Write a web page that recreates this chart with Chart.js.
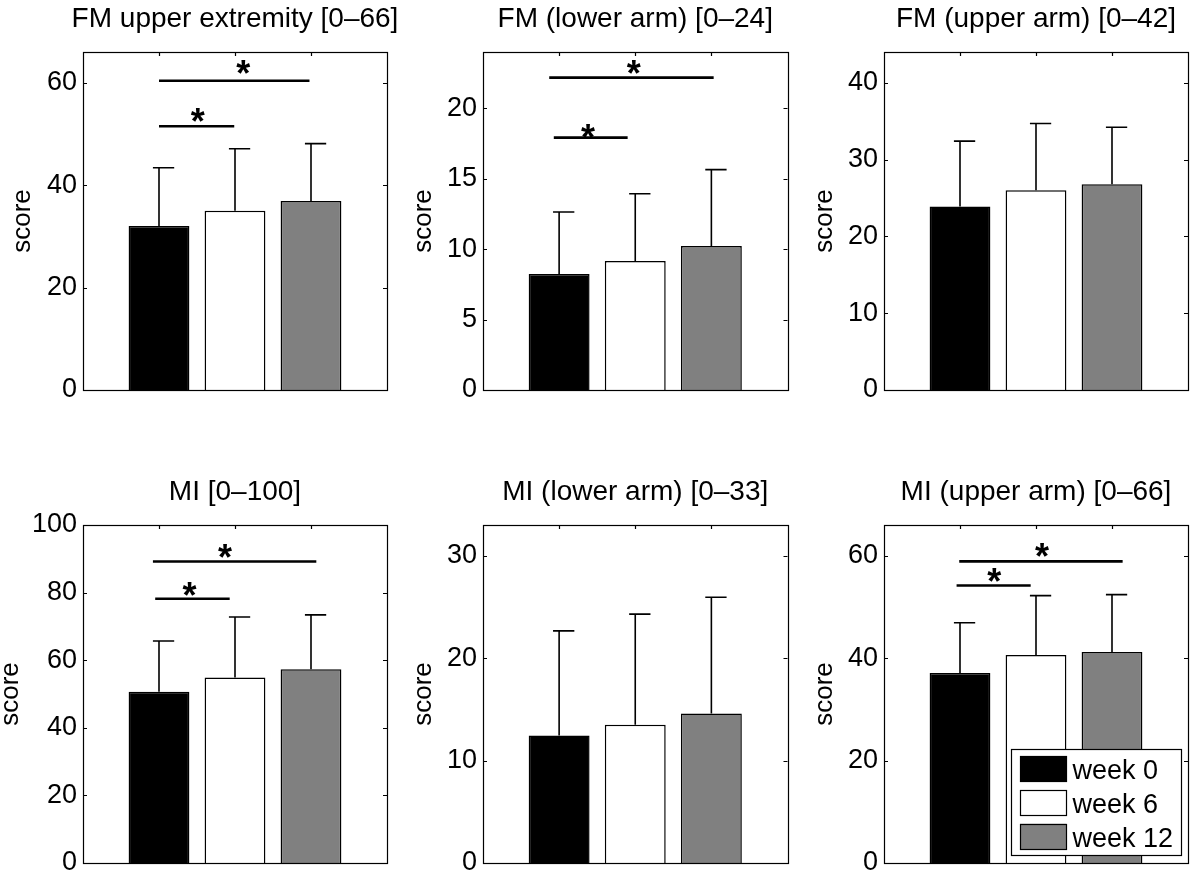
<!DOCTYPE html>
<html>
<head>
<meta charset="utf-8">
<script src="https://cdn.jsdelivr.net/npm/chart.js@4.4.0/dist/chart.umd.min.js"></script>
<style>
  html, body { margin: 0; padding: 0; background: #ffffff; }
  #wrap { position: relative; width: 1200px; height: 880px; overflow: hidden; background: #ffffff; }
  #wrap canvas { position: absolute; }
</style>
</head>
<body>
<div id="wrap"></div>
<script>
// ---------------- data ----------------
const groups = ['week 0', 'week 6', 'week 12'];
const groupX = [1, 2, 3];
const panelTitles = [
  'FM upper extremity [0–66]',
  'FM (lower arm) [0–24]',
  'FM (upper arm) [0–42]',
  'MI [0–100]',
  'MI (lower arm) [0–33]',
  'MI (upper arm) [0–66]'
];
const yAxisMax  = [66, 24, 44, 100, 33, 66];
const yAxisStep = [20, 5, 10, 20, 10, 20];

const fmUpperExtMean = [32.0, 35.0, 36.9];
const fmUpperExtSD   = [11.4, 12.1, 11.2];
const fmLowerArmMean = [8.24, 9.16, 10.23];
const fmLowerArmSD   = [4.40, 4.78, 5.42];
const fmUpperArmMean = [23.9, 26.0, 26.8];
const fmUpperArmSD   = [8.5, 8.7, 7.4];
const miTotalMean    = [50.7, 54.9, 57.3];
const miTotalSD      = [15.0, 17.9, 16.1];
const miLowerArmMean = [12.46, 13.5, 14.6];
const miLowerArmSD   = [10.2, 10.8, 11.35];
const miUpperArmMean = [37.1, 40.6, 41.2];
const miUpperArmSD   = [9.8, 11.6, 11.2];

// significance brackets: [x from, x to, y level]; stars: [x, y]
const fmUpperExtSig   = [[1.0, 1.99, 51.5], [1.0, 2.98, 60.4]];
const fmUpperExtStars = [[1.51, 54.1], [2.11, 63.4]];
const fmLowerArmSig   = [[0.93, 1.90, 17.92], [0.87, 3.03, 22.18]];
const fmLowerArmStars = [[1.38, 18.5], [1.98, 23.1]];
const miTotalSig      = [[0.95, 1.93, 78.2], [0.92, 3.07, 89.2]];
const miTotalStars    = [[1.40, 81.6], [1.87, 92.9]];
const miUpperArmSig   = [[0.955, 1.93, 54.2], [0.99, 3.14, 58.9]];
const miUpperArmStars = [[1.45, 56.6], [2.08, 61.4]];

const panelMeans = [fmUpperExtMean, fmLowerArmMean, fmUpperArmMean, miTotalMean, miLowerArmMean, miUpperArmMean];
const panelSDs   = [fmUpperExtSD, fmLowerArmSD, fmUpperArmSD, miTotalSD, miLowerArmSD, miUpperArmSD];
const panelSig   = [fmUpperExtSig, fmLowerArmSig, [], miTotalSig, [], miUpperArmSig];
const panelStars = [fmUpperExtStars, fmLowerArmStars, [], miTotalStars, [], miUpperArmStars];

// ---------------- styles / layout ----------------
const FONT = '"Liberation Sans", Arial, Helvetica, sans-serif';
const groupColors = ['#000000', '#ffffff', '#808080'];
const layoutCfg = [
  { left: 0,   top: 0,   w: 400, h: 420, axisW: 83, padR: 13,   padB: 30, yTitlePad: 7.2 },
  { left: 400, top: 0,   w: 400, h: 420, axisW: 83, padR: 12.5, padB: 30, yTitlePad: 8.5 },
  { left: 800, top: 0,   w: 400, h: 420, axisW: 84, padR: 12,   padB: 30, yTitlePad: 9.0 },
  { left: 0,   top: 473, w: 400, h: 407, axisW: 83, padR: 13,   padB: 17, yTitlePad: -5.0 },
  { left: 400, top: 473, w: 400, h: 407, axisW: 83, padR: 12.5, padB: 17, yTitlePad: 8.5 },
  { left: 800, top: 473, w: 400, h: 407, axisW: 84, padR: 12,   padB: 17, yTitlePad: 9.0 }
];
const legendPanel = 5;

Chart.defaults.font.family = FONT;
Chart.defaults.color = '#000000';

const decorPlugin = {
  id: 'decor',
  afterLayout(chart) {
    // let the (chart-area wide) title overhang the plot box without being squeezed
    const tb = chart.titleBlock;
    if (tb) { tb.left -= 80; tb.right += 80; tb.width += 160; }
  },
  beforeDatasetsDraw(chart, args, opts) {
    const ctx = chart.ctx;
    const a = chart.chartArea;
    const xs = chart.scales.x, ys = chart.scales.y;
    const tl = 4;
    ctx.save();
    ctx.strokeStyle = '#000';
    ctx.lineWidth = 1.2;
    ctx.beginPath();
    ys.ticks.forEach(t => {
      const y = Math.round(ys.getPixelForValue(t.value)) + 0.5;
      ctx.moveTo(a.left, y); ctx.lineTo(a.left + tl, y);
      ctx.moveTo(a.right, y); ctx.lineTo(a.right - tl, y);
    });
    groupX.forEach(v => {
      const x = Math.round(xs.getPixelForValue(v)) + 0.5;
      ctx.moveTo(x, a.top); ctx.lineTo(x, a.top + tl);
      ctx.moveTo(x, a.bottom); ctx.lineTo(x, a.bottom - tl);
    });
    ctx.stroke();
    ctx.restore();
  },
  afterDatasetsDraw(chart, args, opts) {
    const i = opts.idx;
    const ctx = chart.ctx;
    const a = chart.chartArea;
    const xs = chart.scales.x, ys = chart.scales.y;
    const means = panelMeans[i], sds = panelSDs[i];
    ctx.save();
    // error bars (upper only)
    ctx.strokeStyle = '#000';
    ctx.lineWidth = 1.6;
    ctx.beginPath();
    means.forEach((m, k) => {
      const x = xs.getPixelForValue(groupX[k]);
      const yb = ys.getPixelForValue(m);
      const yt = ys.getPixelForValue(m + sds[k]);
      ctx.moveTo(x, yb); ctx.lineTo(x, yt);
      ctx.moveTo(xs.getPixelForValue(groupX[k] - 0.08), yt);
      ctx.lineTo(xs.getPixelForValue(groupX[k] + 0.2), yt);
    });
    ctx.stroke();
    // significance lines
    ctx.lineWidth = 2.6;
    ctx.beginPath();
    panelSig[i].forEach(s => {
      const y = ys.getPixelForValue(s[2]);
      ctx.moveTo(xs.getPixelForValue(s[0]), y);
      ctx.lineTo(xs.getPixelForValue(s[1]), y);
    });
    ctx.stroke();
    // stars
    const starSize = 36;
    ctx.fillStyle = '#000';
    ctx.font = 'bold ' + starSize + 'px ' + FONT;
    ctx.textAlign = 'center';
    ctx.textBaseline = 'alphabetic';
    panelStars[i].forEach(s => {
      ctx.fillText('*', xs.getPixelForValue(s[0]), ys.getPixelForValue(s[1]) + 0.58 * starSize);
    });
    // box
    ctx.lineWidth = 1.2;
    ctx.strokeStyle = '#000';
    ctx.strokeRect(Math.round(a.left) + 0.5, Math.round(a.top) + 0.5,
                   Math.round(a.right) - Math.round(a.left), Math.round(a.bottom) - Math.round(a.top));
    // legend
    if (i === legendPanel) {
      const bw = 170, bh = 106;
      const bx = a.right - 7.5 - bw, by = a.bottom - 8 - bh;
      ctx.fillStyle = '#fff';
      ctx.fillRect(bx, by, bw, bh);
      ctx.lineWidth = 1.2;
      ctx.strokeRect(Math.round(bx) + 0.5, Math.round(by) + 0.5, bw, bh);
      ctx.font = '27px ' + FONT;
      ctx.textAlign = 'left';
      ctx.textBaseline = 'alphabetic';
      chart.data.datasets.forEach((ds, k) => {
        const sy = by + 7 + k * 33.9;
        ctx.fillStyle = ds.backgroundColor;
        ctx.fillRect(bx + 9.5, sy, 46.5, 25.5);
        ctx.strokeRect(Math.round(bx + 9.5) + 0.5, Math.round(sy) + 0.5, 46, 25);
        ctx.fillStyle = '#000';
        ctx.fillText(ds.label, bx + 62, sy + 12.8 + 10.5);
      });
    }
    ctx.restore();
  }
};

const wrap = document.getElementById('wrap');
panelTitles.forEach((title, i) => {
  const L = layoutCfg[i];
  const cv = document.createElement('canvas');
  cv.width = L.w; cv.height = L.h;
  cv.style.left = L.left + 'px'; cv.style.top = L.top + 'px';
  cv.style.width = L.w + 'px'; cv.style.height = L.h + 'px';
  wrap.appendChild(cv);

  const datasets = groups.map((g, k) => ({
    label: g,
    data: [{ x: groupX[k], y: panelMeans[i][k] }],
    backgroundColor: groupColors[k],
    borderColor: '#000000',
    borderWidth: 1.5,
    grouped: false,
    categoryPercentage: 0.8,
    barPercentage: 1.0
  }));

  new Chart(cv, {
    type: 'bar',
    data: { datasets },
    options: {
      responsive: false,
      animation: false,
      events: [],
      layout: { padding: { left: 0, top: 0, right: L.padR, bottom: L.padB } },
      plugins: {
        legend: { display: false },
        tooltip: { enabled: false },
        title: {
          display: true,
          text: title,
          fullSize: false,
          color: '#000',
          font: { size: 28, weight: 'normal', family: FONT, lineHeight: 1.2 },
          padding: { top: 2, bottom: 16.4 }
        },
        decor: { idx: i }
      },
      scales: {
        x: {
          type: 'linear',
          display: false,
          min: 0, max: 4,
          offset: false,
          ticks: { stepSize: 1 },
          grid: { display: false }
        },
        y: {
          type: 'linear',
          min: 0, max: yAxisMax[i],
          grid: { display: false, drawTicks: false },
          border: { display: false },
          ticks: {
            stepSize: yAxisStep[i],
            includeBounds: false,
            padding: 6,
            color: '#000',
            font: { size: 27, family: FONT }
          },
          title: {
            display: true,
            text: 'score',
            color: '#000',
            font: { size: 26, family: FONT, lineHeight: 1.2 },
            padding: { top: L.yTitlePad, bottom: 0 }
          },
          afterFit(scale) {
            scale.width = L.axisW;
            scale.paddingTop = 0;
            scale.paddingBottom = 0;
          }
        }
      }
    },
    plugins: [decorPlugin]
  });
});
</script>
</body>
</html>
